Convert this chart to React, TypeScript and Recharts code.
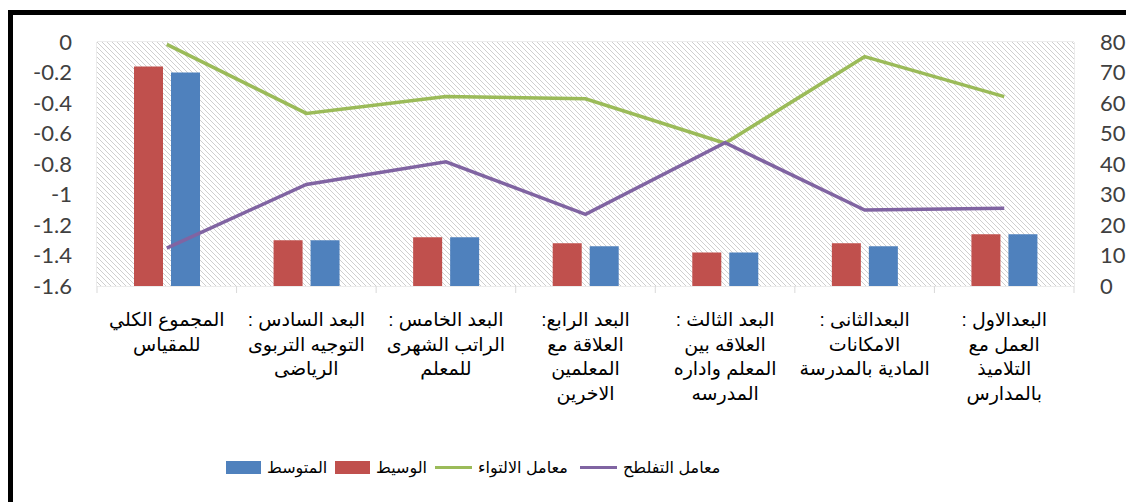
import React from "react";
import {
  Bar,
  CartesianGrid,
  ComposedChart,
  Legend,
  Line,
  ReferenceArea,
  XAxis,
  YAxis,
} from "recharts";

// categories, each label already split into its printed lines
const categories = [
  ["المجموع الكلي", "للمقياس"],
  ["البعد السادس :", "التوجيه التربوى", "الرياضى"],
  ["البعد الخامس :", "الراتب الشهرى", "للمعلم"],
  ["البعد الرابع:", "العلاقة مع", "المعلمين", "الاخرين"],
  ["البعد الثالث :", "العلاقه بين", "المعلم واداره", "المدرسه"],
  ["البعدالثانى :", "الامكانات", "المادية بالمدرسة"],
  ["البعدالاول :", "العمل مع", "التلاميذ", "بالمدارس"],
];

const median = [-0.16, -1.3, -1.28, -1.32, -1.38, -1.32, -1.26]; // الوسيط
const mean = [-0.2, -1.3, -1.28, -1.34, -1.38, -1.34, -1.26]; // المتوسط
const skewness = [79.2, 56.6, 62.1, 61.4, 46.8, 75.2, 62.1]; // معامل الالتواء
const kurtosis = [12.4, 33.3, 40.7, 23.5, 47.0, 24.9, 25.5]; // معامل التفلطح

const leftTicks = [0, -0.2, -0.4, -0.6, -0.8, -1, -1.2, -1.4, -1.6];
const rightTicks = [0, 10, 20, 30, 40, 50, 60, 70, 80];
const FLOOR = -1.6;

const legendItems = [
  { label: "المتوسط", color: "#4F81BD", kind: "rect", w: 109 },
  { label: "الوسيط", color: "#C0504D", kind: "rect", w: 100 },
  { label: "معامل الالتواء", color: "#9BBB59", kind: "line", w: 145 },
  { label: "معامل التفلطح", color: "#8064A2", kind: "line", w: 140 },
];

const data = categories.map((c, i) => ({
  name: c.join(" "),
  lines: c,
  median: [FLOOR, median[i]],
  mean: [FLOOR, mean[i]],
  skew: skewness[i],
  kurt: kurtosis[i],
}));

const tickFont = "Lato, 'Liberation Sans', sans-serif";
const arabicFont = "'Liberation Sans', Arial, 'DejaVu Sans', sans-serif";

function CategoryTick(props: any) {
  const { x, y, payload, index, width, visibleTicksCount } = props;
  const band = payload?.offset ? payload.offset * 2 : width / (visibleTicksCount || 7);
  const lines: string[] = data[index]?.lines ?? [String(payload.value)];
  const left = x - band / 2;
  return (
    <g>
      <line x1={left} x2={left} y1={y} y2={y + 7} stroke="#d9d9d9" />
      {index === data.length - 1 && (
        <line x1={left + band} x2={left + band} y1={y} y2={y + 7} stroke="#d9d9d9" />
      )}
      <text
        x={x}
        y={y + 40}
        textAnchor="middle"
        direction="rtl"
        fontFamily={arabicFont}
        fontSize={19}
        fill="#000"
      >
        {lines.map((l, k) => (
          <tspan key={k} x={x} dy={k === 0 ? 0 : 24.6}>
            {l}
          </tspan>
        ))}
      </text>
    </g>
  );
}

function LegendBox() {
  return (
    <div style={{ display: "flex", alignItems: "center", height: 30, whiteSpace: "nowrap" }}>
      {legendItems.map((it) => (
        <div
          key={it.label}
          style={{ display: "flex", alignItems: "center", width: it.w, flexShrink: 0 }}
        >
          {it.kind === "rect" ? (
            <div style={{ width: 35, height: 13, background: it.color, flexShrink: 0 }} />
          ) : (
            <div style={{ width: 37, height: 3, background: it.color, flexShrink: 0 }} />
          )}
          <span
            dir="rtl"
            style={{ fontFamily: arabicFont, fontSize: 16, color: "#000", marginLeft: 6 }}
          >
            {it.label}
          </span>
        </div>
      ))}
    </div>
  );
}

export default function App() {
  return (
    <div style={{ position: "relative", width: 1126, height: 494 }}>
      <svg width={1} height={1} style={{ position: "absolute", left: 0, top: 0 }}>
        <defs>
          <pattern id="hatchBg" patternUnits="userSpaceOnUse" width={5} height={5}>
            <rect width={5} height={5} fill="#fff" />
            <path d="M-1,-1 L6,6 M-1,4 L1,6 M4,-1 L6,1" stroke="#cfcfcf" strokeWidth={1} />
          </pattern>
        </defs>
      </svg>
      <ComposedChart
        width={1126}
        height={494}
        data={data}
        margin={{ top: 34, right: 10, bottom: 46, left: 29 }}
        barSize={29}
        barGap={8}
      >
        <ReferenceArea
          yAxisId="left"
          y1={FLOOR}
          y2={0}
          fill="url(#hatchBg)"
          fillOpacity={1}
          stroke="none"
          ifOverflow="visible"
        />
        <CartesianGrid
          stroke="#d9d9d9"
          verticalCoordinatesGenerator={({ offset }: any) =>
            categories.map((_, i) => offset.left + (i * offset.width) / categories.length).concat(
              offset.left + offset.width
            )
          }
        />
        <XAxis
          dataKey="name"
          height={140}
          tickSize={0}
          tickMargin={0}
          axisLine={false}
          tickLine={false}
          interval={0}
          tick={<CategoryTick />}
        />
        <YAxis
          yAxisId="left"
          domain={[FLOOR, 0]}
          ticks={leftTicks}
          interval={0}
          allowDataOverflow
          width={60}
          axisLine={false}
          tickLine={false}
          tickSize={0}
          tickMargin={25}
          tick={{ fill: "#404040", fontSize: 22, fontFamily: tickFont }}
        />
        <YAxis
          yAxisId="right"
          orientation="right"
          domain={[0, 80]}
          ticks={rightTicks}
          interval={0}
          width={50}
          axisLine={false}
          tickLine={false}
          tickSize={0}
          tickMargin={26}
          tick={{ fill: "#404040", fontSize: 22, fontFamily: tickFont, textAnchor: "start" }}
        />
        <Legend
          verticalAlign="bottom"
          content={() => <LegendBox />}
          wrapperStyle={{ position: "absolute", top: 444, left: 218, width: 560, height: 30 }}
        />
        <Bar yAxisId="left" dataKey="median" name="الوسيط" fill="#C0504D" isAnimationActive={false} />
        <Bar yAxisId="left" dataKey="mean" name="المتوسط" fill="#4F81BD" isAnimationActive={false} />
        <Line
          yAxisId="right"
          dataKey="skew"
          name="معامل الالتواء"
          stroke="#9BBB59"
          strokeWidth={3.5}
          dot={false}
          isAnimationActive={false}
        />
        <Line
          yAxisId="right"
          dataKey="kurt"
          name="معامل التفلطح"
          stroke="#8064A2"
          strokeWidth={3.5}
          dot={false}
          isAnimationActive={false}
        />
      </ComposedChart>
      <div
        style={{
          position: "absolute",
          left: 0,
          top: 2,
          width: 1126,
          height: 492,
          borderTop: "5px solid #000",
          borderLeft: "5px solid #000",
          boxSizing: "border-box",
          pointerEvents: "none",
        }}
      />
    </div>
  );
}
